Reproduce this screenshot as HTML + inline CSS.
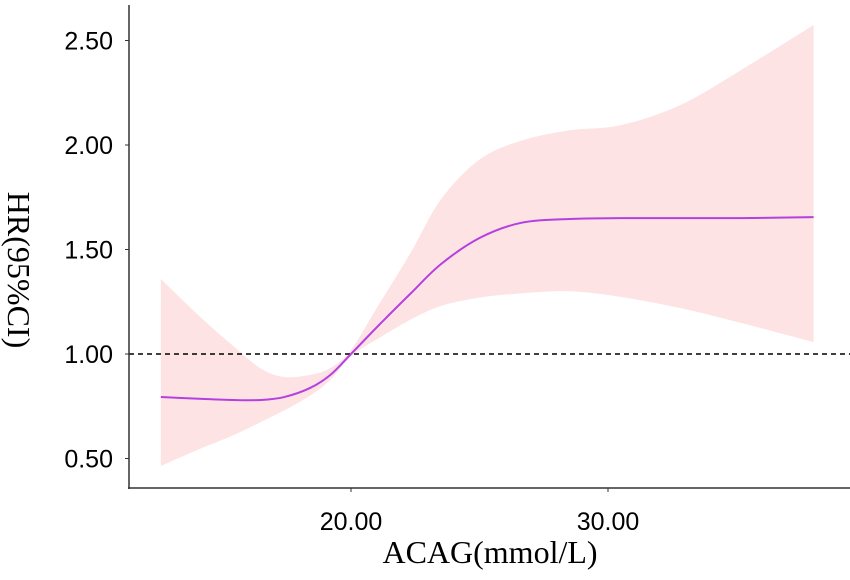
<!DOCTYPE html>
<html><head><meta charset="utf-8"><style>
body{margin:0;background:#fff;width:850px;height:575px;overflow:hidden}
</style></head><body>
<svg id="chart" width="850" height="575" xmlns="http://www.w3.org/2000/svg"></svg>
<script>
const xs  =[12.6,14.2,15.4,16.5,17.4,18.4,19.2,20.0,21.1,22.3,23.5,25.0,26.6,28.5,30.5,32.8,35.2,38.0];
const fit =[0.794,0.785,0.78,0.78,0.794,0.837,0.90,1.0,1.14,1.287,1.43,1.555,1.627,1.646,1.65,1.65,1.65,1.655];
const lo  =[0.464,0.55,0.61,0.675,0.73,0.80,0.876,0.99,1.077,1.163,1.23,1.27,1.29,1.30,1.273,1.22,1.148,1.057];
const hi  =[1.359,1.17,1.04,0.93,0.89,0.90,0.933,1.02,1.24,1.48,1.74,1.93,2.02,2.07,2.095,2.19,2.36,2.574];
const yTicks=[0.5,1.0,1.5,2.0,2.5];
const yTickLabels=["0.50","1.00","1.50","2.00","2.50"];
const xTicks=[20,30];
const xTickLabels=["20.00","30.00"];
const refLine=1.0;

const X=v=>351+(v-20)*25.7;
const Y=v=>354-(v-1)*209;
const svg=document.getElementById('chart');
const NS='http://www.w3.org/2000/svg';
function mk(t,a,p){const e=document.createElementNS(NS,t);for(const k in a)e.setAttribute(k,a[k]);(p||svg).appendChild(e);return e;}
function smooth(pts){let d=`M${pts[0][0]},${pts[0][1]}`;for(let i=0;i<pts.length-1;i++){const p0=pts[i-1]||pts[i],p1=pts[i],p2=pts[i+1],p3=pts[i+2]||p2;
d+=` C${p1[0]+(p2[0]-p0[0])/6},${p1[1]+(p2[1]-p0[1])/6} ${p2[0]-(p3[0]-p1[0])/6},${p2[1]-(p3[1]-p1[1])/6} ${p2[0]},${p2[1]}`;}return d;}
const hiP=xs.map((x,i)=>[X(x),Y(hi[i])]), loP=xs.map((x,i)=>[X(x),Y(lo[i])]).reverse();
let band=mk('path',{d:smooth(hiP)+' L'+smooth(loP).slice(1)+' Z',fill:'#fde3e3',stroke:'none'});


let ref=mk('line',{x1:129,x2:850,y1:Y(refLine),y2:Y(refLine),stroke:'#000','stroke-width':1.5,'stroke-dasharray':'5,4'});


let ln=mk('path',{d:smooth(xs.map((x,i)=>[X(x),Y(fit[i])])),fill:'none',stroke:'#b540e0','stroke-width':2});


let ya=mk('line',{x1:129,x2:129,y1:5,y2:489,stroke:'#333','stroke-width':1.5});


let xa=mk('line',{x1:128,x2:850,y1:488,y2:488,stroke:'#333','stroke-width':1.5});


yTicks.forEach((v,i)=>{mk('line',{x1:125,x2:129,y1:Y(v),y2:Y(v),stroke:'#333'});
const t=mk('text',{x:113,y:Y(v)+9,'text-anchor':'end','font-family':'Liberation Sans, sans-serif','font-size':25});t.textContent=yTickLabels[i];

});
xTicks.forEach((v,i)=>{mk('line',{x1:X(v),x2:X(v),y1:488,y2:492,stroke:'#333'});
const t=mk('text',{x:X(v),y:530,'text-anchor':'middle','font-family':'Liberation Sans, sans-serif','font-size':25});t.textContent=xTickLabels[i];

});
const xt=mk('text',{x:490,y:563,'text-anchor':'middle','font-family':'Liberation Serif, serif','font-size':32});xt.textContent='ACAG(mmol/L)';


const yt=mk('text',{x:0,y:0,'text-anchor':'middle','font-family':'Liberation Serif, serif','font-size':32,transform:'translate(8,270) rotate(90)'});yt.textContent='HR(95%CI)';


</script>
</body></html>
